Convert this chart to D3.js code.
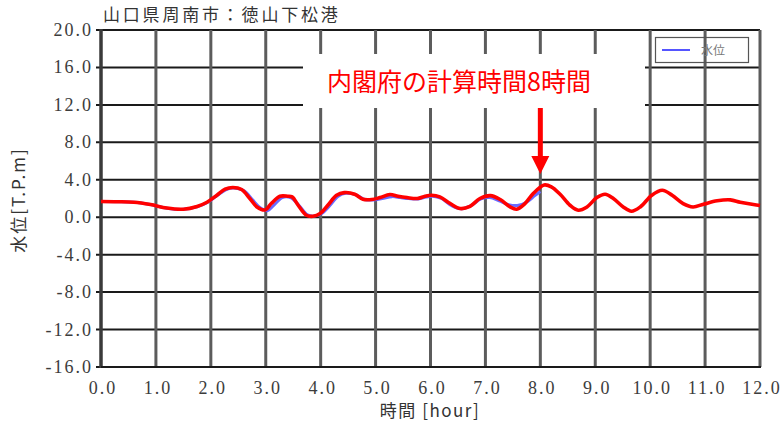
<!DOCTYPE html>
<html lang="ja">
<head>
<meta charset="utf-8">
<title>山口県周南市：徳山下松港</title>
<script src="https://cdn.jsdelivr.net/npm/d3@7"></script>
<style>
  html, body { margin: 0; padding: 0; background: #fff; }
  svg { display: block; }
  text.num { font-family: "Liberation Serif", "DejaVu Serif", serif; font-size: 18px; letter-spacing: 2px; fill: #3c3c3c; }
  text.jp { font-family: "Noto Sans CJK JP", "Noto Sans", sans-serif; fill: #333; }
</style>
</head>
<body>
<svg id="chart" width="783" height="425"></svg>
<script>
// Water level at Tokuyama-Kudamatsu port (hours after the event)
const titleText = "山口県周南市：徳山下松港";
const yAxisTitle = "水位[T.P.m]";
const xAxisTitle = "時間 [hour]";
const legendLabel = "水位";
const noteText = "内閣府の計算時間8時間";

const xTicks = [0, 1, 2, 3, 4, 5, 6, 7, 8, 9, 10, 11, 12];
const xTickLabels = ["0.0", "1.0", "2.0", "3.0", "4.0", "5.0", "6.0", "7.0", "8.0", "9.0", "10.0", "11.0", "12.0"];
const yTicks = [20, 16, 12, 8, 4, 0, -4, -8, -12, -16];
const yTickLabels = ["20.0", "16.0", "12.0", "8.0", "4.0", "0.0", "-4.0", "-8.0", "-12.0", "-16.0"];
const noteHour = 8;

// Water level, long run (0–12 h)
const levelHours = [0, 0.3, 0.6, 0.9, 1.2, 1.5, 1.75, 1.93, 2.11, 2.26, 2.4, 2.56, 2.71, 2.84, 2.99,
  3.1, 3.26, 3.4, 3.48, 3.59, 3.74, 3.86, 3.99, 4.13, 4.29, 4.43, 4.62, 4.77, 4.93, 5.08, 5.26,
  5.41, 5.57, 5.76, 5.9, 6.02, 6.17, 6.36, 6.54, 6.72, 6.9, 7.09, 7.27, 7.45, 7.57, 7.72, 7.87,
  8.07, 8.2, 8.36, 8.54, 8.69, 8.85, 9.03, 9.18, 9.33, 9.51, 9.66, 9.82, 10.03, 10.22, 10.4,
  10.6, 10.78, 10.97, 11.22, 11.46, 11.64, 11.88, 12];
const levelValues = [1.68, 1.66, 1.6, 1.35, 0.98, 0.86, 1.15, 1.6, 2.35, 2.99, 3.17, 2.96, 2.0, 1.1, 0.78,
  1.46, 2.24, 2.24, 2.17, 1.28, 0.21, 0.1, 0.39, 1.28, 2.35, 2.63, 2.46, 1.92, 1.89, 2.1, 2.42,
  2.24, 2.1, 2.0, 2.24, 2.35, 2.17, 1.46, 0.93, 1.17, 2.0, 2.31, 1.89, 1.1, 0.86, 1.46, 2.53,
  3.45, 3.25, 2.45, 1.28, 0.75, 1.1, 2.1, 2.46, 2.0, 1.1, 0.64, 1.1, 2.35, 2.88, 2.35,
  1.46, 1.1, 1.39, 1.75, 1.85, 1.6, 1.35, 1.25];

// Water level, 8 h run (legend series)
const shortHours = [0, 0.6, 0.9, 1.2, 1.5, 1.75, 1.93, 2.11, 2.28, 2.42, 2.6, 2.76, 2.9, 3.03, 3.15,
  3.3, 3.45, 3.6, 3.76, 3.88, 4.02, 4.16, 4.32, 4.46, 4.64, 4.8, 4.96, 5.12, 5.3, 5.45, 5.6,
  5.78, 5.92, 6.04, 6.2, 6.38, 6.55, 6.74, 6.92, 7.08, 7.25, 7.42, 7.58, 7.75, 7.9, 8.0];
const shortValues = [1.68, 1.6, 1.35, 0.96, 0.84, 1.12, 1.55, 2.3, 2.95, 3.12, 2.85, 1.85, 1.0, 0.7, 1.3,
  2.1, 2.1, 1.3, 0.25, 0.12, 0.4, 1.2, 2.25, 2.55, 2.4, 1.9, 1.85, 2.0, 2.2, 2.1, 2.0,
  1.95, 2.15, 2.25, 2.0, 1.25, 0.9, 1.25, 1.95, 2.1, 1.75, 1.35, 1.25, 1.6, 2.3, 2.75];

const svg = d3.select("#chart");
const plotLeft = 101, plotRight = 760, plotTop = 30, plotBottom = 367;

const x = d3.scaleLinear().domain([0, 12]).range([plotLeft, plotRight]);
const y = d3.scaleLinear().domain([-16, 20]).range([plotBottom, plotTop]);

// Grid: horizontal lines
svg.append("g")
  .selectAll("line")
  .data(yTicks)
  .join("line")
  .attr("x1", plotLeft - 5).attr("x2", plotRight)
  .attr("y1", d => y(d)).attr("y2", d => y(d))
  .attr("stroke", "#1a1a1a").attr("stroke-width", 2);

// Grid: vertical lines
svg.append("g")
  .selectAll("line")
  .data(xTicks.slice(1))
  .join("line")
  .attr("x1", d => x(d)).attr("x2", d => x(d))
  .attr("y1", plotTop).attr("y2", plotBottom)
  .attr("stroke", "#5c5c5c").attr("stroke-width", 3);

// Left axis line and bottom line
svg.append("line")
  .attr("x1", plotLeft).attr("x2", plotLeft).attr("y1", plotTop - 1).attr("y2", plotBottom + 1)
  .attr("stroke", "#3a3a3a").attr("stroke-width", 3.5);
svg.append("line")
  .attr("x1", plotLeft).attr("x2", plotRight + 1).attr("y1", plotBottom).attr("y2", plotBottom)
  .attr("stroke", "#1a1a1a").attr("stroke-width", 2.2);

// Y tick labels
svg.append("g")
  .selectAll("text")
  .data(yTicks)
  .join("text")
  .attr("class", "num")
  .attr("x", 93).attr("y", d => y(d) + 6)
  .attr("text-anchor", "end")
  .text((d, i) => yTickLabels[i]);

// X tick labels
svg.append("g")
  .selectAll("text")
  .data(xTicks)
  .join("text")
  .attr("class", "num")
  .attr("x", d => x(d) + 2).attr("y", 394)
  .attr("text-anchor", "middle")
  .text((d, i) => xTickLabels[i]);

// Titles
svg.append("text")
  .attr("class", "jp")
  .attr("x", 103).attr("y", 21)
  .attr("font-size", 17)
  .attr("letter-spacing", "2.8px")
  .text(titleText);

svg.append("text")
  .attr("class", "jp")
  .attr("transform", "translate(25,200) rotate(-90)")
  .attr("text-anchor", "middle")
  .attr("font-size", 17)
  .attr("letter-spacing", "2px")
  .text(yAxisTitle);

svg.append("text")
  .attr("class", "jp")
  .attr("x", 430).attr("y", 417)
  .attr("text-anchor", "middle")
  .attr("font-size", 17)
  .attr("letter-spacing", "1.5px")
  .text(xAxisTitle);

// Water level curves
const line = d3.line()
  .x(d => x(d[0]))
  .y(d => y(d[1]))
  .curve(d3.curveCatmullRom.alpha(0.5));

svg.append("path")
  .datum(d3.zip(shortHours, shortValues))
  .attr("d", line)
  .attr("fill", "none")
  .attr("stroke", "#6a6aff").attr("stroke-width", 3)
  .attr("stroke-linejoin", "round");

svg.append("path")
  .datum(d3.zip(levelHours, levelValues))
  .attr("d", line)
  .attr("fill", "none")
  .attr("stroke", "#ff0000").attr("stroke-width", 3.6)
  .attr("stroke-linejoin", "round");

// Legend
const lg = svg.append("g");
lg.append("rect")
  .attr("x", 655.5).attr("y", 37.5).attr("width", 93).attr("height", 25)
  .attr("fill", "none").attr("stroke", "#555").attr("stroke-width", 1.2);
lg.append("line")
  .attr("x1", 662).attr("x2", 690).attr("y1", 50).attr("y2", 50)
  .attr("stroke", "#5555ff").attr("stroke-width", 2);
lg.append("text")
  .attr("class", "jp")
  .attr("x", 701).attr("y", 54.5)
  .attr("font-size", 12)
  .style("fill", "#777")
  .text(legendLabel);

// Annotation: note box with arrow to 8 h
svg.append("rect")
  .attr("x", 303).attr("y", 54).attr("width", 342).attr("height", 54)
  .attr("fill", "#fff");

svg.append("text")
  .attr("class", "jp")
  .attr("x", 327).attr("y", 91)
  .attr("font-size", 25)
  .style("fill", "#ff0000")
  .text(noteText);

const ax = x(noteHour);
svg.append("line")
  .attr("x1", ax).attr("x2", ax).attr("y1", 108).attr("y2", 158)
  .attr("stroke", "#ff0000").attr("stroke-width", 5);
svg.append("path")
  .attr("d", `M${ax - 9},156 L${ax + 9},156 L${ax},174 Z`)
  .attr("fill", "#ff0000");
</script>
</body>
</html>
